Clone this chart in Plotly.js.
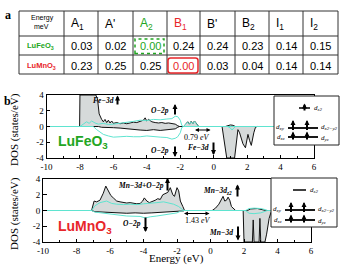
<!DOCTYPE html>
<html><head><meta charset="utf-8">
<script src="https://cdn.plot.ly/plotly-3.0.1.min.js"></script>
<style>body{margin:0;background:#fff}</style></head>
<body><div id="c" style="width:340px;height:265px"></div>
<script>
// ---------- Table data ----------
const headers = ['A<sub>1</sub>', "A'", 'A<sub>2</sub>', 'B<sub>1</sub>', "B'", 'B<sub>2</sub>', 'I<sub>1</sub>', 'I<sub>2</sub>'];
const compounds = ['LuFeO<sub>3</sub>', 'LuMnO<sub>3</sub>'];
const feVals = [0.03, 0.02, 0.00, 0.24, 0.24, 0.23, 0.14, 0.15];
const mnVals = [0.23, 0.25, 0.25, 0.00, 0.03, 0.04, 0.14, 0.14];

// ---------- DOS data: [energy (eV), DOS (states/eV)]; off-scale peaks held at the axis limit ----------
const feUp = [[-10,0],[-8.02,0],[-8.0,4],[-7.05,4],[-6.95,3.5],[-6.85,1.6],[-6.7,0.9],[-6.6,0.6],[-6.5,0.9],[-6.4,0.5],[-6.3,0.8],[-6.2,0.45],[-6.1,0.7],[-6.0,0.4],[-5.8,0.5],[-5.6,0.35],[-5.4,0.45],[-5.2,0.35],[-5.0,0.45],[-4.8,0.55],[-4.6,0.5],[-4.4,0.7],[-4.2,0.8],[-4.1,1.1],[-4.0,0.7],[-3.9,0.9],[-3.7,0.6],[-3.5,0.5],[-3.3,0.45],[-3.1,0.5],[-2.9,0.4],[-2.7,0.45],[-2.5,0.35],[-2.3,0.3],[-2.15,0.1],[-2.05,0],[-1.8,0],[-1.65,0.3],[-1.55,0.6],[-1.45,0.3],[-1.35,0.65],[-1.25,0.35],[-1.15,0.7],[-1.0,0.3],[-0.9,0],[0.7,0],[0.85,0.15],[1.0,0.2],[1.15,0.15],[1.3,0],[6,0]];
const feDn = [[-10,0],[-6.9,0],[-6.7,-0.1],[-6.4,-0.1],[-6.0,-0.15],[-5.6,-0.2],[-5.2,-0.3],[-4.8,-0.35],[-4.4,-0.45],[-4.0,-0.5],[-3.6,-0.4],[-3.2,-0.5],[-2.8,-0.45],[-2.5,-0.35],[-2.3,-0.3],[-2.15,-0.1],[-2.05,0],[0.5,0],[0.6,-1.5],[0.7,-3],[0.78,-4],[1.25,-4],[1.35,-2.5],[1.45,-0.4],[1.55,-0.8],[1.75,-2.2],[1.9,-2.7],[2.05,-1.0],[2.15,-1.8],[2.25,-2.4],[2.4,-0.8],[2.5,-0.1],[2.6,0],[6,0]];
const feO2pUp = [[-10,0],[-8.0,0],[-7.8,0.3],[-7.6,0.6],[-7.45,0.4],[-7.3,0.7],[-7.1,0.45],[-6.9,0.3],[-6.6,0.4],[-6.3,0.25],[-6.0,0.3],[-5.6,0.4],[-5.2,0.55],[-4.8,0.65],[-4.4,0.8],[-4.0,0.75],[-3.6,0.9],[-3.2,0.85],[-2.8,0.95],[-2.5,1.0],[-2.3,1.3],[-2.15,1.25],[-2.0,0.8],[-1.9,0.1],[-1.8,0],[-1.65,0.3],[-1.55,0.55],[-1.45,0.3],[-1.35,0.6],[-1.25,0.35],[-1.15,0.65],[-1.0,0.25],[-0.9,0],[6,0]];
const feO2pDn = [[-10,0],[-7.2,0],[-7.0,-0.4],[-6.6,-1.0],[-6.3,-1.2],[-6.0,-1.35],[-5.6,-1.3],[-5.2,-1.25],[-4.8,-1.3],[-4.4,-1.3],[-4.0,-1.2],[-3.6,-1.3],[-3.2,-1.35],[-2.8,-1.4],[-2.5,-1.6],[-2.3,-1.5],[-2.15,-1.3],[-2.0,-0.8],[-1.9,-0.1],[-1.8,0],[0.85,0],[1.0,-0.2],[1.1,-0.45],[1.2,-0.2],[1.3,0],[6,0]];

const mnUp = [[-10,0],[-7.1,0],[-6.95,1.2],[-6.8,1.1],[-6.6,1.3],[-6.4,2.2],[-6.25,3.1],[-6.1,2.4],[-5.95,1.9],[-5.8,1.6],[-5.6,1.2],[-5.4,1.1],[-5.2,1.0],[-5.0,0.95],[-4.8,1.0],[-4.6,0.9],[-4.4,0.85],[-4.2,0.9],[-4.05,1.2],[-3.95,1.6],[-3.8,1.2],[-3.65,1.0],[-3.5,1.1],[-3.3,1.3],[-3.15,1.5],[-3.0,1.4],[-2.85,2.0],[-2.7,2.2],[-2.55,2.3],[-2.4,2.9],[-2.25,2.0],[-2.15,1.8],[-2.0,2.9],[-1.9,2.5],[-1.8,1.2],[-1.65,0.5],[-1.55,0],[0.1,0],[0.3,0.3],[0.5,0.8],[0.65,1.5],[0.75,1.8],[0.85,1.2],[0.95,1.3],[1.05,1.7],[1.15,1.3],[1.25,0.5],[1.4,0.2],[1.5,0],[2.2,0],[2.4,0.2],[2.8,0.25],[3.1,0.15],[3.3,0],[6,0]];
const mnDn = [[-10,0],[-7.1,0],[-6.9,-0.15],[-6.5,-0.2],[-6.0,-0.25],[-5.5,-0.3],[-5.0,-0.35],[-4.5,-0.3],[-4.0,-0.35],[-3.5,-0.3],[-3.0,-0.25],[-2.5,-0.2],[-2.0,-0.15],[-1.6,-0.05],[-1.55,0],[1.95,0],[2.0,-4],[2.5,-4],[2.55,-1.2],[2.6,-4],[2.9,-4],[2.95,-1.0],[3.0,-4],[3.25,-4],[3.35,-3],[3.5,-1],[3.6,-0.3],[3.7,0],[6,0]];
const mnO2pUp = [[-10,0],[-7.1,0],[-6.9,0.6],[-6.6,1.0],[-6.2,1.2],[-5.9,0.9],[-5.6,0.8],[-5.2,0.75],[-4.8,0.8],[-4.4,0.75],[-4.0,0.85],[-3.6,0.9],[-3.2,1.0],[-2.8,1.1],[-2.5,0.9],[-2.2,0.8],[-1.9,0.5],[-1.7,0.1],[-1.6,0],[2.1,0],[2.3,0.25],[2.6,0.3],[3.0,0.25],[3.3,0.1],[3.4,0],[6,0]];
const mnO2pDn = [[-10,0],[-7.1,0],[-6.9,-0.2],[-6.6,-0.3],[-6.2,-0.4],[-5.8,-0.5],[-5.4,-0.6],[-5.0,-0.7],[-4.6,-0.7],[-4.2,-0.75],[-3.9,-0.95],[-3.6,-0.8],[-3.2,-0.7],[-2.8,-0.55],[-2.4,-0.45],[-2.0,-0.3],[-1.8,-0.1],[-1.6,0],[2.1,0],[2.3,-0.35],[2.6,-0.4],[3.0,-0.3],[3.4,0],[6,0]];

const xTicks = [-10,-8,-6,-4,-2,0,2,4,6];
const xTickText = ['-10','-8','-6','-4','-2','0','2','4','6'];
const yTicks = [-4,-2,0,2,4];
const yTickText = ['-4','-2','0','2','4'];

// ---------- helpers ----------
const W = 340, H = 265;
const px = v => v / W, py = v => 1 - v / H;
const SANS = 'Liberation Sans, Arial, sans-serif';
const SERIF = 'Liberation Serif, Times New Roman, serif';
const GREEN = '#22a622', RED = '#e8262a', CYAN = '#5fe4d0', GRAY = '#d6dada';

function series(arr, xa, ya, color, fill) {
  const t = {x: arr.map(p => p[0]), y: arr.map(p => p[1]), xaxis: xa, yaxis: ya,
    type: 'scatter', mode: 'lines', line: {color: color, width: 1}, hoverinfo: 'skip', cliponaxis: true};
  if (fill) { t.fill = 'tonexty'; t.fillcolor = GRAY; }
  return t;
}
const data = [
  series(feUp, 'x', 'y', '#111'), series(feDn, 'x', 'y', '#111', true),
  series(feO2pUp, 'x', 'y', CYAN), series(feO2pDn, 'x', 'y', CYAN),
  series(mnUp, 'x2', 'y2', '#111'), series(mnDn, 'x2', 'y2', '#111', true),
  series(mnO2pUp, 'x2', 'y2', CYAN), series(mnO2pDn, 'x2', 'y2', CYAN)
];

function xax(d, anchor) {
  return {domain: d, range: [-10, 6], anchor: anchor, tickvals: xTicks, ticktext: xTickText,
    ticks: 'inside', ticklen: 3.5, tickcolor: '#000', showline: true, linecolor: '#000', linewidth: 1,
    mirror: true, showgrid: false, zeroline: false, tickfont: {family: SERIF, size: 9, color: '#000'},
    minor: {ticks: 'inside', dtick: 1, ticklen: 2, tickcolor: '#000'}, fixedrange: true};
}
function yax(d, anchor) {
  return {domain: d, range: [-4, 4], anchor: anchor, tickvals: yTicks, ticktext: yTickText,
    ticks: 'inside', ticklen: 3.5, tickcolor: '#000', showline: true, linecolor: '#000', linewidth: 1,
    mirror: true, showgrid: false, zeroline: false, tickfont: {family: SERIF, size: 9, color: '#000'},
    fixedrange: true};
}

const shapes = [], ann = [];
function line(x0, y0, x1, y1, c, w, dash) {
  shapes.push({type: 'line', xref: 'paper', yref: 'paper', x0: px(x0), y0: py(y0), x1: px(x1), y1: py(y1),
    line: {color: c, width: w, dash: dash || 'solid'}, layer: 'above'});
}
function rect(x0, y0, x1, y1, c, w, fill, dash) {
  shapes.push({type: 'rect', xref: 'paper', yref: 'paper', x0: px(x0), y0: py(y1), x1: px(x1), y1: py(y0),
    line: {color: c, width: w, dash: dash || 'solid'}, fillcolor: fill || 'rgba(0,0,0,0)', layer: 'above'});
}
function txt(x, y, t, size, opts) {
  opts = opts || {};
  ann.push({xref: 'paper', yref: 'paper', x: px(x), y: py(y), text: t, showarrow: false,
    xanchor: opts.xa || 'center', yanchor: opts.ya || 'middle', textangle: opts.angle || 0,
    borderpad: opts.pad === undefined ? 1 : opts.pad,
    font: {family: opts.family || SANS, size: size, color: opts.color || '#000'}});
}
function arrow(xh, yh, xt, yt, w, sz, both) {
  const a = {xref: 'paper', yref: 'paper', x: px(xh), y: py(yh), ax: xt - xh, ay: yt - yh,
    axref: 'pixel', ayref: 'pixel', text: '', showarrow: true, arrowhead: 2, arrowsize: sz,
    arrowwidth: w, arrowcolor: '#000', standoff: 0, startstandoff: 0};
  if (both) { a.arrowside = 'end+start'; a.startarrowhead = 2; a.startarrowsize = sz; }
  ann.push(a);
}

// ---------- table ----------
const colB = [19, 64, 98, 133, 167, 200, 235, 269, 303, 338];
const rowB = [11, 36, 55, 74];
rowB.forEach(y => line(19, y, 338, y, '#333', 1));
colB.forEach(x => line(x, 11, x, 74, '#333', 1));
txt(42, 18.5, 'Energy', 7);
txt(41.5, 26.5, 'meV', 7);
headers.forEach((h, i) => txt(colB[i + 1] + 5, 24, h, 12,
  {xa: 'left', color: i === 2 ? GREEN : (i === 3 ? RED : '#000')}));
txt(40.5, 46, '<b>' + compounds[0] + '</b>', 7.5, {color: GREEN});
txt(41, 65.5, '<b>' + compounds[1] + '</b>', 7.5, {color: RED});
feVals.forEach((v, i) => txt((colB[i + 1] + colB[i + 2]) / 2, 46, v.toFixed(2), 11, {color: i === 2 ? GREEN : '#000'}));
mnVals.forEach((v, i) => txt((colB[i + 1] + colB[i + 2]) / 2, 65.5, v.toFixed(2), 11, {color: i === 3 ? RED : '#000'}));
rect(135, 39, 164, 53.5, GREEN, 1.5, null, 'dot');
(function () {
  const x0 = 168, y0 = 58, x1 = 198, y1 = 73, r = 2.5;
  const P = (x, y) => px(x) + ',' + py(y);
  shapes.push({type: 'path', xref: 'paper', yref: 'paper', layer: 'above', line: {color: RED, width: 1.5},
    path: 'M' + P(x0 + r, y0) + ' L' + P(x1 - r, y0) + ' Q' + P(x1, y0) + ' ' + P(x1, y0 + r) +
      ' L' + P(x1, y1 - r) + ' Q' + P(x1, y1) + ' ' + P(x1 - r, y1) + ' L' + P(x0 + r, y1) +
      ' Q' + P(x0, y1) + ' ' + P(x0, y1 - r) + ' L' + P(x0, y0 + r) + ' Q' + P(x0, y0) + ' ' + P(x0 + r, y0) + ' Z'});
})();
txt(8, 15.5, '<b>a</b>', 12, {family: SERIF});
txt(7, 101, '<b>b</b>', 12, {family: SERIF});

// ---------- panel labels / axis titles ----------
txt(14, 130, 'DOS (states/eV)', 11, {family: SERIF, angle: -90});
txt(14, 214, 'DOS (states/eV)', 11, {family: SERIF, angle: -90});
txt(176, 258.3, 'Energy (eV)', 11, {family: SERIF, pad: 0});
txt(83, 142, '<b>LuFeO<sub>3</sub></b>', 14, {color: GREEN});
txt(85, 227, '<b>LuMnO<sub>3</sub></b>', 14, {color: RED});

const lab = t => '<b><i>' + t + '</i></b>';
// top plot labels
txt(115.5, 100, lab('Fe−3d'), 7.5, {family: SERIF, xa: 'right'});
arrow(117.5, 95.5, 117.5, 106, 2, 0.5);
txt(171, 110.5, lab('O−2p'), 7.5, {family: SERIF, xa: 'right'});
arrow(175, 104, 175, 116, 2, 0.5);
txt(171, 150.5, lab('O−2p'), 7.5, {family: SERIF, xa: 'right'});
arrow(175, 157, 175, 145, 2, 0.5);
arrow(195, 130, 212, 130, 1, 0.8, true);
txt(197, 137.5, '0.79 <i>eV</i>', 8, {family: SERIF});
txt(210.5, 147, lab('Fe−3d'), 7.5, {family: SERIF, xa: 'right'});
arrow(213.5, 155, 213.5, 141, 2, 0.5);
// bottom plot labels
txt(165.5, 185, lab('Mn−3d+O−2p'), 7.5, {family: SERIF, xa: 'right'});
arrow(167.5, 178, 167.5, 192, 2, 0.5);
txt(143, 223, lab('O−2p'), 7.5, {family: SERIF, xa: 'right'});
arrow(145.5, 232, 145.5, 216, 2, 0.5);
arrow(184, 213.5, 211, 213.5, 1, 0.8, true);
txt(197.5, 220.5, '1.43 <i>eV</i>', 8, {family: SERIF});
txt(234, 191, lab('Mn−3d<sub>z2</sub>'), 7.5, {family: SERIF, xa: 'right'});
arrow(237.5, 184.5, 237.5, 198, 2, 0.5);
txt(235, 232, lab('Mn−3d'), 7.5, {family: SERIF, xa: 'right'});
arrow(238, 240.5, 238, 225, 2, 0.5);

// ---------- insets ----------
const dl = t => '<i>d</i><sub><i>' + t + '</i></sub>';
function inset(b, z2, r2, r3, xs, lineX, zx, filledZ) {
  rect(b[0], b[1], b[2], b[3], '#222', 1, '#fff');
  line(zx[0], z2, zx[1], z2, '#000', 1.5);
  line(lineX[0], r2, lineX[1], r2, '#000', 1.8);
  line(lineX[0], r3, lineX[1], r3, '#000', 1.8);
  if (filledZ) arrow((zx[0] + zx[1]) / 2, z2 - 4.5, (zx[0] + zx[1]) / 2, z2 + 4, 2, 0.5);
  xs.forEach(x => { arrow(x, r2 - 8, x, r2 + 3.5, 2, 0.5); arrow(x, r3 - 5.5, x, r3 + 4, 2, 0.5); });
  txt(zx[1] + 1.5, z2 - 0.5, dl('z2'), 7, {family: SERIF, xa: 'left'});
  txt(lineX[0] - 1, r2 - 1.5, dl('xy'), 7, {family: SERIF, xa: 'right'});
  txt(lineX[0] - 1, r3 - 0.5, dl('xz'), 7, {family: SERIF, xa: 'right'});
  txt(lineX[1] + 1, r2 - 1.5, dl('x2−y2'), 7, {family: SERIF, xa: 'left'});
  txt(lineX[1] + 1, r3 + 0.5, dl('yz'), 7, {family: SERIF, xa: 'left'});
}
inset([274, 96, 339, 145], 108, 128, 137, [293, 307], [288, 318], [299, 310], true);
inset([271, 178, 337, 227], 190, 210, 220, [291, 304], [285, 315], [293, 306], false);

const layout = {
  width: W, height: H, margin: {l: 0, r: 0, t: 0, b: 0}, paper_bgcolor: '#fff', plot_bgcolor: '#fff',
  showlegend: false,
  xaxis: xax([px(46.5), px(314)], 'y'), yaxis: yax([py(158), py(95)], 'x'),
  xaxis2: xax([px(43), px(311)], 'y2'), yaxis2: yax([py(242), py(179)], 'x2'),
  shapes: shapes, annotations: ann
};
Plotly.newPlot('c', data, layout, {displayModeBar: false, staticPlot: true});
</script></body></html>
